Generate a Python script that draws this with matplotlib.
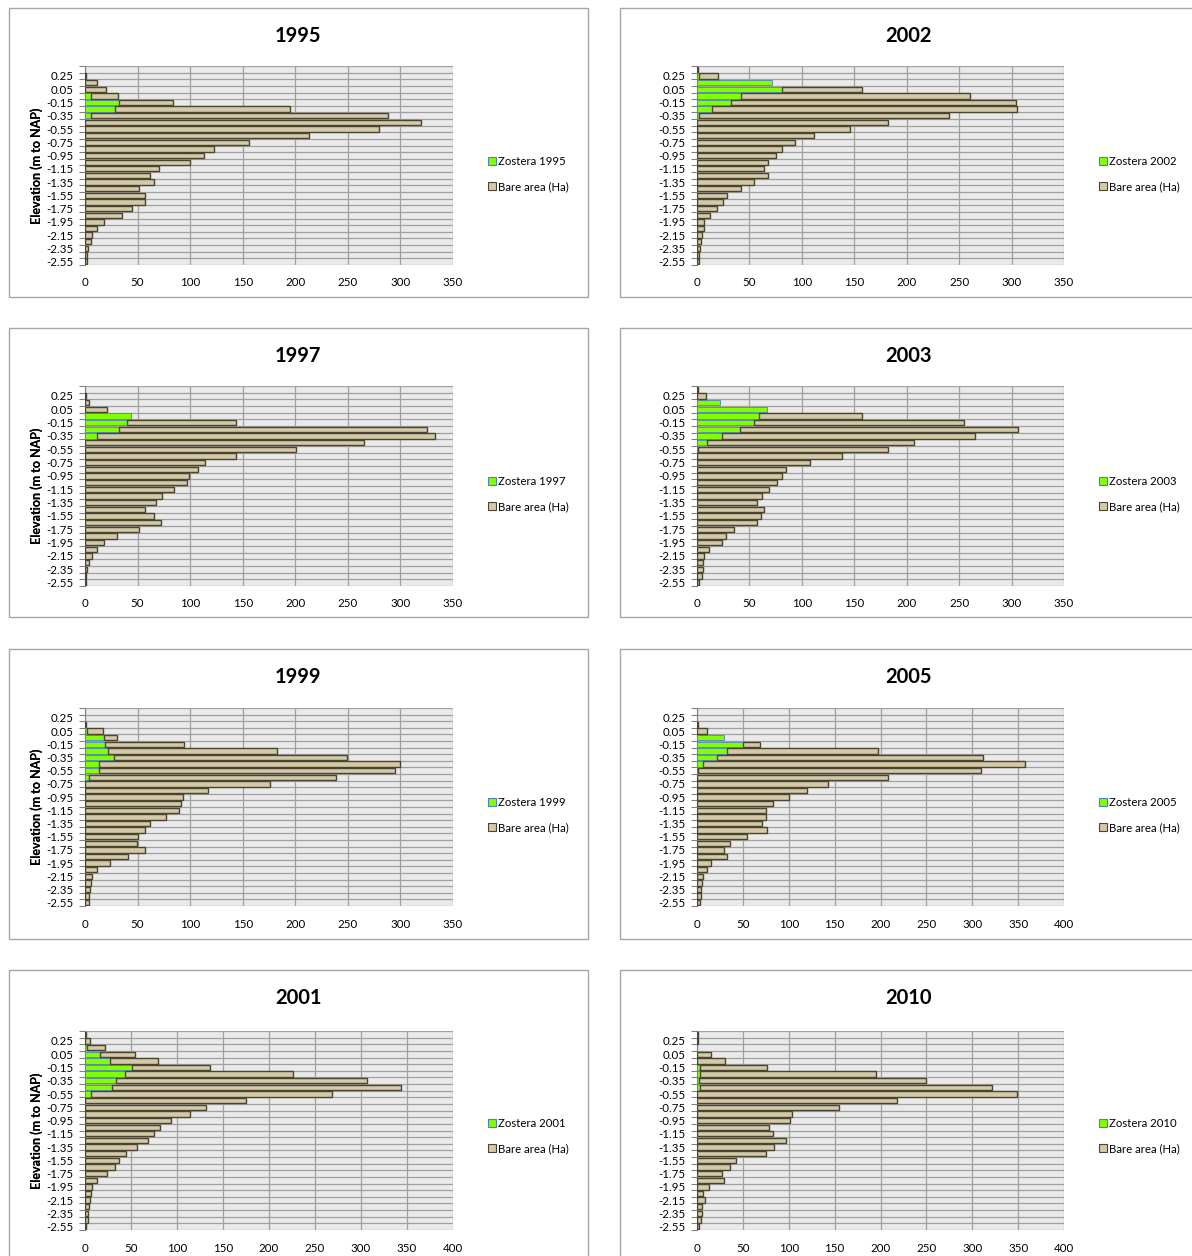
import matplotlib.pyplot as plt
from matplotlib.patches import Rectangle, Patch

# elevation classes (m to NAP), top to bottom
elevations = ["0.35", "0.25", "0.15", "0.05", "-0.05", "-0.15", "-0.25", "-0.35",
              "-0.45", "-0.55", "-0.65", "-0.75", "-0.85", "-0.95", "-1.05", "-1.15",
              "-1.25", "-1.35", "-1.45", "-1.55", "-1.65", "-1.75", "-1.85", "-1.95",
              "-2.05", "-2.15", "-2.25", "-2.35", "-2.45", "-2.55"]

zostera_1995 = [0, 0, 0, 0, 6, 32, 29, 6, 0, 0, 0, 0, 0, 0, 0, 0, 0, 0, 0, 0, 0, 0, 0, 0, 0, 0, 0, 0, 0, 0]
bare_1995 = [0, 1, 11, 20, 25, 52, 166, 282, 320, 280, 213, 156, 123, 113, 100, 70, 62, 66, 51, 57,
             57, 45, 35, 18, 11, 7, 6, 3, 2, 2]

zostera_2002 = [0, 2, 72, 81, 42, 32, 14, 2, 0, 0, 0, 0, 0, 0, 0, 0, 0, 0, 0, 0, 0, 0, 0, 0, 0, 0, 0, 0, 0, 0]
bare_2002 = [1, 18, 0, 76, 218, 272, 291, 238, 182, 146, 112, 93, 81, 75, 68, 64, 68, 54, 42, 29,
             25, 19, 12, 7, 7, 5, 4, 3, 2, 2]

zostera_1997 = [0, 0, 0, 0, 44, 40, 32, 11, 0, 0, 0, 0, 0, 0, 0, 0, 0, 0, 0, 0, 0, 0, 0, 0, 0, 0, 0, 0, 0, 0]
bare_1997 = [0, 1, 4, 21, 0, 104, 293, 322, 265, 201, 144, 114, 107, 99, 97, 85, 73, 68, 57, 66,
             72, 51, 30, 18, 11, 7, 4, 2, 1, 1]

zostera_2003 = [0, 0, 22, 67, 59, 54, 41, 24, 10, 1, 0, 0, 0, 0, 0, 0, 0, 0, 0, 0, 0, 0, 0, 0, 0, 0, 0, 0, 0, 0]
bare_2003 = [1, 9, 0, 0, 98, 201, 265, 241, 197, 181, 138, 108, 85, 81, 76, 69, 62, 57, 64, 61,
             57, 35, 28, 24, 11, 7, 6, 6, 5, 2]

zostera_1999 = [0, 0, 0, 2, 18, 19, 22, 28, 13, 13, 4, 0, 0, 0, 0, 0, 0, 0, 0, 0, 0, 0, 0, 0, 0, 0, 0, 0, 0, 0]
bare_1999 = [0, 0, 1, 15, 12, 75, 161, 221, 287, 282, 235, 176, 117, 93, 91, 89, 77, 62, 57, 50,
             49, 57, 41, 24, 11, 7, 6, 5, 4, 4]

zostera_2005 = [0, 0, 0, 0, 29, 50, 33, 22, 7, 1, 0, 0, 0, 0, 0, 0, 0, 0, 0, 0, 0, 0, 0, 0, 0, 0, 0, 0, 0, 0]
bare_2005 = [0, 0, 1, 11, 0, 19, 164, 290, 350, 308, 208, 143, 120, 100, 83, 75, 75, 71, 76, 54,
             36, 29, 33, 15, 11, 7, 5, 4, 4, 3]

zostera_2001 = [0, 0, 2, 16, 27, 51, 43, 34, 29, 6, 0, 0, 0, 0, 0, 0, 0, 0, 0, 0, 0, 0, 0, 0, 0, 0, 0, 0, 0, 0]
bare_2001 = [1, 5, 20, 38, 52, 85, 183, 273, 315, 263, 175, 132, 114, 94, 82, 75, 69, 56, 45, 37,
             33, 24, 13, 8, 6, 5, 4, 3, 3, 1]

zostera_2010 = [0, 0, 0, 0, 0, 3, 3, 2, 3, 0, 0, 0, 0, 0, 0, 0, 0, 0, 0, 0, 0, 0, 0, 0, 0, 0, 0, 0, 0, 0]
bare_2010 = [1, 1, 0, 15, 31, 73, 192, 248, 318, 349, 218, 155, 103, 101, 79, 83, 97, 84, 75, 43,
             36, 27, 29, 13, 7, 9, 5, 5, 4, 2]

# (year, zostera, bare, x max, column, row)
panels = [
    ("1995", zostera_1995, bare_1995, 350, 0, 0),
    ("2002", zostera_2002, bare_2002, 350, 1, 0),
    ("1997", zostera_1997, bare_1997, 350, 0, 1),
    ("2003", zostera_2003, bare_2003, 350, 1, 1),
    ("1999", zostera_1999, bare_1999, 350, 0, 2),
    ("2005", zostera_2005, bare_2005, 400, 1, 2),
    ("2001", zostera_2001, bare_2001, 400, 0, 3),
    ("2010", zostera_2010, bare_2010, 400, 1, 3),
]

GREEN = "#80ff00"
TAN = "#d4c9a8"

W, H = 1192, 1256


def main():
    plt.rcParams['font.family'] = ['Lato', 'DejaVu Sans']
    fig = plt.figure(figsize=(W / 100, H / 100), dpi=100)

    # pixel layout: box x0, box x1, plot x0, plot x1 / box y0, box y1, plot y0, plot y1
    cols = [(9, 588, 85, 453), (620, 1210, 697, 1064)]
    rows = [(8, 297, 66, 265), (328, 617, 386, 586), (649, 939, 708, 906), (970, 1270, 1031, 1230)]

    for year, zos, bare, xmax, c, r in panels:
        bx0, bx1, px0, px1 = cols[c]
        by0, by1, py0, py1 = rows[r]

        # chart area border
        fig.patches.append(Rectangle((bx0 / W, 1 - by1 / H), (bx1 - bx0) / W, (by1 - by0) / H,
                                     transform=fig.transFigure, fill=False,
                                     edgecolor="#a6a6a6", linewidth=1))

        ax = fig.add_axes([px0 / W, 1 - py1 / H, (px1 - px0) / W, (py1 - py0) / H])
        ax.set_facecolor("#eaeaea")

        yz = [i for i, v in enumerate(zos) if v > 0]
        ax.barh(yz, [zos[i] for i in yz], height=0.8, color=GREEN,
                edgecolor="#4f81bd", linewidth=0.6, zorder=3)
        yb = [i for i, v in enumerate(bare) if v > 0]
        ax.barh(yb, [bare[i] for i in yb], left=[zos[i] for i in yb], height=0.8,
                color=TAN, edgecolor="#4a4530", linewidth=1.0, zorder=3)

        ax.set_ylim(len(elevations) - 0.5, -0.5)
        ax.set_yticks(range(1, len(elevations), 2))
        ax.set_yticklabels(elevations[1::2])
        ax.set_yticks([i - 0.5 for i in range(len(elevations) + 1)], minor=True)
        ax.grid(axis="y", which="minor", color="#a0a0a0", linewidth=0.9, zorder=1)
        ax.tick_params(axis="y", which="major", length=0, pad=8, labelsize=8.3)
        ax.tick_params(axis="y", which="minor", length=4, color="#808080", width=0.8)

        ax.set_xlim(0, xmax)
        ax.set_xticks(range(0, xmax + 1, 50))
        ax.grid(axis="x", which="major", color="#a0a0a0", linewidth=0.9, zorder=1)
        ax.tick_params(axis="x", length=0, pad=9, labelsize=8.3)
        ax.set_axisbelow(True)

        for s in ["top", "right", "bottom"]:
            ax.spines[s].set_visible(False)
        ax.spines["left"].set_color("#808080")

        ax.set_ylabel("Elevation (m to NAP)", fontsize=9, fontweight="bold")
        ax.yaxis.set_label_coords((43 - px0) / (px1 - px0), 0.5)

        # title
        tx = (bx0 + 289) / W
        ty = 1 - (by0 + 28) / H
        fig.text(tx, ty, year, ha="center", va="center", fontsize=14.5, fontweight="bold")

        # legend
        handles = [Patch(facecolor=GREEN, edgecolor="#4f81bd", linewidth=0.8),
                   Patch(facecolor=TAN, edgecolor="#4a4530", linewidth=0.8)]
        fig.legend(handles, ["Zostera " + year, "Bare area (Ha)"], loc="center left",
                   bbox_to_anchor=((px1 + 35) / W, 1 - (by0 + 166) / H),
                   frameon=False, fontsize=8.2, handlelength=0.7, handleheight=0.7,
                   handletextpad=0.2, labelspacing=1.25, borderaxespad=0, borderpad=0)

    fig.savefig("out.png", dpi=100)


if __name__ == '__main__':
    main()
